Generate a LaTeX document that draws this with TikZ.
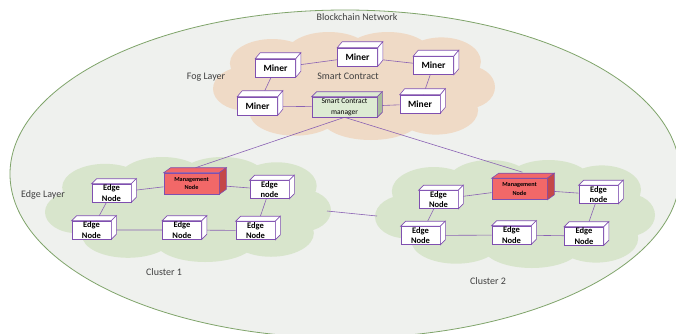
\documentclass[tikz,border=0pt]{standalone}
\usepackage{fontspec}
\setmainfont{Carlito}
\usetikzlibrary{calc}
\pgfdeclarelayer{back}
\pgfdeclarelayer{mid}
\pgfsetlayers{back,mid,main}
\definecolor{boxc}{HTML}{7F4FB0}
\definecolor{linec}{HTML}{8A62B4}
\definecolor{fogc}{HTML}{EFDAC6}
\definecolor{edgec}{HTML}{D8E5CC}
\definecolor{ellfill}{HTML}{EFF1EE}
\definecolor{ellline}{HTML}{7FA46A}
\definecolor{mgmtc}{HTML}{F26868}
\definecolor{mgmtside}{HTML}{C44848}
\definecolor{scc}{HTML}{DDEBD3}
\definecolor{scside}{HTML}{A9BE9B}
\definecolor{labelc}{HTML}{404040}
\tikzset{
  face/.style={draw=boxc, line width=0.6pt},
  minerbox/.style={face, fill=white, minimum width=40pt, minimum height=18pt, inner sep=0pt, font=\fontsize{9.5}{10}\selectfont\bfseries},
  edgebox/.style={face, fill=white, minimum width=39pt, minimum height=18pt, inner sep=0pt, align=center, font=\fontsize{8.5}{10.5}\selectfont\bfseries},
  mgmtbox/.style={face, fill=mgmtc, minimum width=55pt, minimum height=21pt, inner sep=0pt, align=center, font=\fontsize{6.2}{8.5}\selectfont\bfseries},
  scbox/.style={face, fill=scc, minimum width=65pt, minimum height=20pt, inner sep=0pt, align=center, font=\fontsize{7.5}{10.5}\selectfont},
  link/.style={draw=linec, line width=0.6pt},
  lbl/.style={text=labelc, font=\fontsize{10}{11}\selectfont},
}
\newcommand{\cubefaces}[5]{%
  \filldraw[face, fill=#4] (#1.north west) -- ++(#2pt,#3pt) -- ($(#1.north east)+(#2pt,#3pt)$) -- (#1.north east) -- cycle;
  \filldraw[face, fill=#5] (#1.north east) -- ($(#1.north east)+(#2pt,#3pt)$) -- ($(#1.south east)+(#2pt,#3pt)$) -- (#1.south east) -- cycle;
}
% cloud made of puffs, centre (#1,#2), half width #3, half height #4, colour #5
\newcommand{\cloudfill}[5]{%
  \begin{scope}[shift={(#1,#2)}, xscale=#3, yscale=#4]
    \fill[#5] (0,0) ellipse [x radius=0.8, y radius=0.62]
      (-0.78,0.05) ellipse [x radius=0.22, y radius=0.4]
      (-0.58,-0.42) ellipse [x radius=0.3, y radius=0.45]
      (-0.18,-0.6) ellipse [x radius=0.3, y radius=0.4]
      (0.24,-0.62) ellipse [x radius=0.3, y radius=0.38]
      (0.62,-0.45) ellipse [x radius=0.28, y radius=0.45]
      (0.8,0.02) ellipse [x radius=0.2, y radius=0.4]
      (0.58,0.45) ellipse [x radius=0.3, y radius=0.45]
      (0.12,0.6) ellipse [x radius=0.35, y radius=0.4]
      (-0.42,0.5) ellipse [x radius=0.32, y radius=0.42];
  \end{scope}}
\begin{document}
\begin{tikzpicture}[x=1pt, y=-1pt]
\useasboundingbox (0,0) rectangle (676,333);

\begin{pgfonlayer}{back}
  \clip (0,0) rectangle (676,333);
  \fill[white] (0,0) rectangle (676,333);
  \draw[ellline, fill=ellfill, line width=0.8pt] (345,174) ellipse [x radius=335pt, y radius=164pt];
  \cloudfill{354}{86}{141}{54}{fogc}
  \cloudfill{188}{209.5}{143}{52.5}{edgec}
  \cloudfill{515}{214}{140}{54}{edgec}
\end{pgfonlayer}

\coordinate (c1e) at (327,211);
\coordinate (c2w) at (377,216);

\node[lbl] (bn) at (357,17) {Blockchain Network};
\node[lbl] (fl) at (206,77) {Fog Layer};
\node[lbl] (sct) at (348,76) {Smart Contract};
\node[lbl] (el) at (43,195) {Edge Layer};
\node[lbl] (cl1) at (164,272) {Cluster 1};
\node[lbl] (cl2) at (488,281) {Cluster 2};

% fog layer
\node[minerbox] (mTL) at (275.5,68) {Miner};
\node[minerbox] (mTM) at (357.5,57) {Miner};
\node[minerbox] (mTR) at (433.5,65.5) {Miner};
\node[minerbox] (mBL) at (257.5,106) {Miner};
\node[minerbox] (mBR) at (420,104) {Miner};
\node[scbox] (sc) at (344.5,107) {Smart Contract\\manager};
\cubefaces{mTL}{5}{6}{white}{white}
\cubefaces{mTM}{5}{6}{white}{white}
\cubefaces{mTR}{5}{6}{white}{white}
\cubefaces{mBL}{5}{6}{white}{white}
\cubefaces{mBR}{5}{6}{white}{white}
\cubefaces{sc}{5}{5}{scc}{scside}

% cluster 1
\node[mgmtbox] (m1) at (191.5,183.5) {Management\\Node};
\node[edgebox] (e1a) at (111.5,193) {Edge\\Node};
\node[edgebox] (e1b) at (269.5,189.5) {Edge\\node};
\node[edgebox] (e1c) at (91.5,230) {Edge\\Node};
\node[edgebox] (e1d) at (182,230) {Edge\\Node};
\node[edgebox] (e1e) at (255.5,230.5) {Edge\\Node};
\cubefaces{m1}{7}{5}{mgmtc}{mgmtside}
\cubefaces{e1a}{5}{5}{white}{white}
\cubefaces{e1b}{5}{5}{white}{white}
\cubefaces{e1c}{5}{5}{white}{white}
\cubefaces{e1d}{5}{5}{white}{white}
\cubefaces{e1e}{5}{5}{white}{white}

% cluster 2
\node[mgmtbox] (m2) at (519.5,189) {Management\\Node};
\node[edgebox] (e2a) at (438.5,199.5) {Edge\\Node};
\node[edgebox] (e2b) at (598.5,194.5) {Edge\\node};
\node[edgebox] (e2c) at (420.5,235.5) {Edge\\Node};
\node[edgebox] (e2d) at (511.5,235) {Edge\\Node};
\node[edgebox] (e2e) at (584,236) {Edge\\Node};
\cubefaces{m2}{7}{5}{mgmtc}{mgmtside}
\cubefaces{e2a}{5}{5}{white}{white}
\cubefaces{e2b}{5}{5}{white}{white}
\cubefaces{e2c}{5}{5}{white}{white}
\cubefaces{e2d}{5}{5}{white}{white}
\cubefaces{e2e}{5}{5}{white}{white}

\begin{pgfonlayer}{mid}
  \draw[link] (mTL) -- (mTM) -- (mTR) -- (mBR) -- (sc) -- (mBL) -- (mTL);
  \draw[link] (sc.south) -- ([shift={(4pt,5pt)}]m1.north);
  \draw[link] (sc.south) -- ([shift={(3pt,6pt)}]m2.north);
  \draw[link] (e1a) -- (m1) -- (e1b) -- (e1e) -- (e1d) -- (e1c) -- (e1a);
  \draw[link] (e2a) -- (m2) -- (e2b) -- (e2e) -- (e2d) -- (e2c) -- (e2a);
  \draw[link] (c1e) -- (c2w);
\end{pgfonlayer}
\end{tikzpicture}
\end{document}
